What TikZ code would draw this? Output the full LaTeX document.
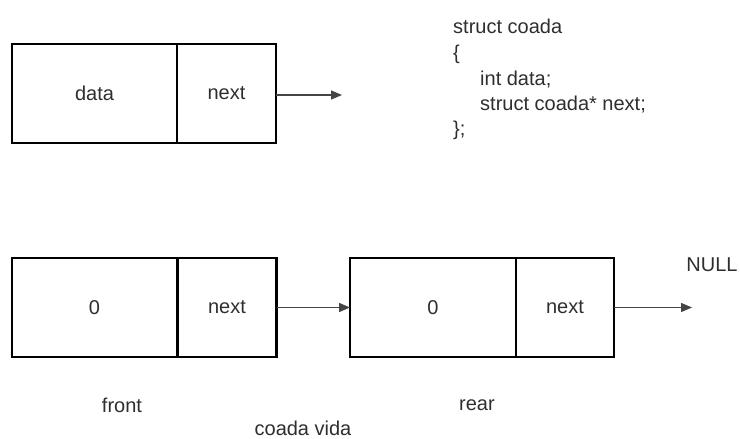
\documentclass[tikz,border=0pt]{standalone}
\usepackage{fontspec}
\setmainfont{Liberation Sans}
\usetikzlibrary{arrows.meta}
\definecolor{txt}{HTML}{2E2E2E}
\definecolor{arr}{HTML}{444444}
\tikzset{
  cell/.style={draw=black, line width=2.8pt, minimum height=99pt, inner sep=0pt, outer sep=0pt, text=txt, font=\fontsize{20}{24}\selectfont},
  datacell/.style={cell, minimum width=165pt},
  nextcell/.style={cell, minimum width=99pt},
  link/.style={draw=arr, line width=1.3pt, -{Triangle[length=11pt,width=9pt]}},
  lbl/.style={text=txt, font=\fontsize{20}{24}\selectfont, inner sep=0pt},
  code/.style={lbl, anchor=base west}
}
\begin{document}
\begin{tikzpicture}[x=1pt,y=-1pt]
\useasboundingbox (0,0) rectangle (740,439);
% top node
\node[datacell] (td) at (94.5,93.5) {data};
\node[nextcell] (tn) at (226.5,93.5) {next};
\coordinate (tend) at (342,95);
\draw[link] (tn.east |- tend) -- (tend);
% code
\node[code] (c1) at (453,33) {struct coada};
\node[code] (c2) at (453,59) {\{};
\node[code] (c3) at (480,85) {int data;};
\node[code] (c4) at (480,110.5) {struct coada* next;};
\node[code] (c5) at (453,135) {\};};
% bottom list
\node[datacell] (d1) at (94.5,307.5) {0};
\node[nextcell] (n1) at (227,307.5) {next};
\node[datacell, minimum width=166pt] (d2) at (433,307.5) {0};
\node[nextcell, minimum width=98pt] (n2) at (565,307.5) {next};
\draw[link] (n1.east) -- (d2.west);
\coordinate (nend) at (692,307.5);
\draw[link] (n2.east) -- (nend);
\node[lbl] (null) at (712,265) {NULL};
\node[lbl] (front) at (122,405) {front};
\node[lbl] (rear) at (477,405) {rear};
\node[lbl] (vida) at (303,428) {coada vida};
\end{tikzpicture}
\end{document}
